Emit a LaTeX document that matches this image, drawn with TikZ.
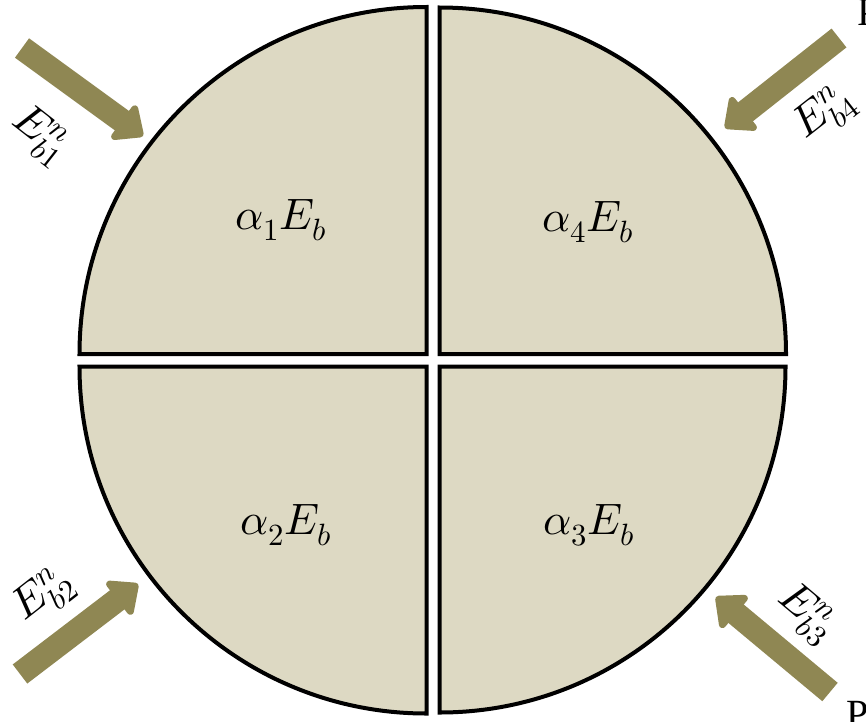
\documentclass[tikz,border=0pt]{standalone}
\usepackage{fontspec}
\usepackage{unicode-math}
\setmainfont{Liberation Serif}
\setmathfont{Latin Modern Math}
\usetikzlibrary{arrows.meta}
\definecolor{quadfill}{HTML}{DDD9C3}
\definecolor{arrowol}{HTML}{8F8753}
\begin{document}
\begin{tikzpicture}[x=0.75pt,y=-0.75pt,
  quad/.style={draw=black,line width=3pt,fill=quadfill,line join=miter},
  bigarrow/.style={draw=arrowol,line width=18pt,line join=round,
    -{Triangle[width=36pt,length=21pt,round]}},
  lab/.style={font=\fontsize{33}{40}\selectfont,inner sep=0pt},
  arrlab/.style={font=\fontsize{33}{40}\selectfont,inner sep=0pt},
  edge text/.style={font=\fontsize{30}{36}\selectfont,inner sep=0pt,anchor=south west}]
\useasboundingbox (0,0) rectangle (866,721);
% quadrants
\path[quad] (426.5,354) -- (79.5,354) arc[start angle=180,end angle=270,radius=347] -- cycle;
\path[quad] (439.5,354) -- (439.5,7.5) arc[start angle=270,end angle=360,radius=346.5] -- cycle;
\path[quad] (426.5,366.5) -- (426.5,713.5) arc[start angle=90,end angle=180,radius=347] -- cycle;
\path[quad] (439.5,366.5) -- (785.5,366.5) arc[start angle=0,end angle=90,radius=346] -- cycle;
% quadrant labels
\node[lab] (q1) at (281,220) {$\alpha_1E_b$};
\node[lab] (q4) at (588,222) {$\alpha_4E_b$};
\node[lab] (q2) at (286,525) {$\alpha_2E_b$};
\node[lab] (q3) at (589,525) {$\alpha_3E_b$};
% arrows
\coordinate (a1t) at (22,48);   \coordinate (a1h) at (143,136);
\coordinate (a4t) at (839,38);  \coordinate (a4h) at (725,128);
\coordinate (a2t) at (20,674);  \coordinate (a2h) at (138,584);
\coordinate (a3t) at (830,692); \coordinate (a3h) at (716,597);
\draw[bigarrow] (a1t) -- (a1h);
\draw[bigarrow] (a4t) -- (a4h);
\draw[bigarrow] (a2t) -- (a2h);
\draw[bigarrow] (a3t) -- (a3h);
% arrow labels
\node[arrlab,rotate=-38] (l1) at (40,136) {$E_{b1}^{n}$};
\node[arrlab,rotate=38]  (l4) at (825,114) {$E_{b4}^{n}$};
\node[arrlab,rotate=38]  (l2) at (44,596) {$E_{b2}^{n}$};
\node[arrlab,rotate=-40] (l3) at (806,614) {$E_{b3}^{n}$};
% cut-off text at the right edge
\node[edge text] (t1) at (857,26) {P};
\node[edge text] (t2) at (846,728) {P};
\end{tikzpicture}
\end{document}
